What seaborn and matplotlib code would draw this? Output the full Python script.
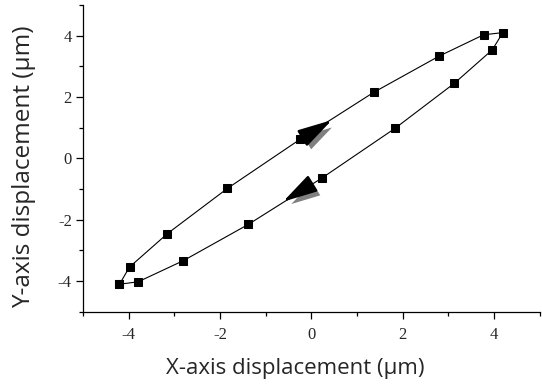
import numpy as np
import pandas as pd
import seaborn as sb
from matplotlib import pyplot as plt
import matplotlib.patheffects as pe
from matplotlib.ticker import MultipleLocator

# loop: up branch from bottom-left to top-right, then back down
x_disp = [-4.20, -3.98, -3.15, -1.84, -0.25, 1.36, 2.79, 3.77, 4.19,
          3.96, 3.13, 1.83, 0.24, -1.38, -2.80, -3.79, -4.20]
y_disp = [-4.10, -3.54, -2.45, -0.98, 0.62, 2.15, 3.33, 4.03, 4.10,
          3.54, 2.45, 0.98, -0.63, -2.15, -3.33, -4.02, -4.10]

# direction arrows (tail, head)
arrow_up = ((-0.22, 0.64), (0.45, 1.25))
arrow_down = ((-0.02, -0.86), (-0.62, -1.41))

df = pd.DataFrame({"x": x_disp, "y": y_disp})

sb.set_style("ticks")
plt.rcParams["font.family"] = ["Liberation Serif", "DejaVu Serif"]
plt.rcParams["axes.unicode_minus"] = False

fig = plt.figure(figsize=(5.42, 3.85), dpi=100)
ax = fig.add_axes([0.153, 0.19, 0.843, 0.797])

sb.lineplot(data=df, x="x", y="y", sort=False, estimator=None, ax=ax,
            color="black", linewidth=0.8, marker="s", markersize=6,
            markeredgecolor="black", markerfacecolor="black")

for tail, head in (arrow_up, arrow_down):
    ax.annotate("", xy=head, xytext=tail,
                arrowprops=dict(arrowstyle="-|>,head_length=1.5,head_width=0.4",
                                color="black", lw=1.8, shrinkA=0, shrinkB=0,
                                mutation_scale=14,
                                path_effects=[pe.SimplePatchShadow(offset=(3, -3.5), shadow_rgbFace="#808080", alpha=1),
                                              pe.Normal()]))

ax.set_xlim(-5, 5)
ax.set_ylim(-5, 5)
ax.xaxis.set_major_locator(MultipleLocator(2))
ax.xaxis.set_minor_locator(MultipleLocator(1))
ax.yaxis.set_major_locator(MultipleLocator(2))
ax.yaxis.set_minor_locator(MultipleLocator(1))

sb.despine(ax=ax)
for s in ("left", "bottom"):
    ax.spines[s].set_linewidth(0.9)
    ax.spines[s].set_color("black")
ax.tick_params(which="major", length=5, width=0.9, color="black", labelsize=12)
ax.tick_params(axis="x", which="major", pad=6)
ax.tick_params(axis="y", which="major", pad=3)
ax.tick_params(which="minor", length=3, width=0.9, color="black")

ax.set_xlabel("X-axis displacement (µm)", family="Open Sans", fontsize=16)
ax.set_ylabel("Y-axis displacement (µm)", family="Open Sans", fontsize=17.5)
ax.xaxis.set_label_coords(0.464, -0.150)
ax.yaxis.set_label_coords(-0.103, 0.472)

plt.savefig("out.png", dpi=100)
plt.close()
